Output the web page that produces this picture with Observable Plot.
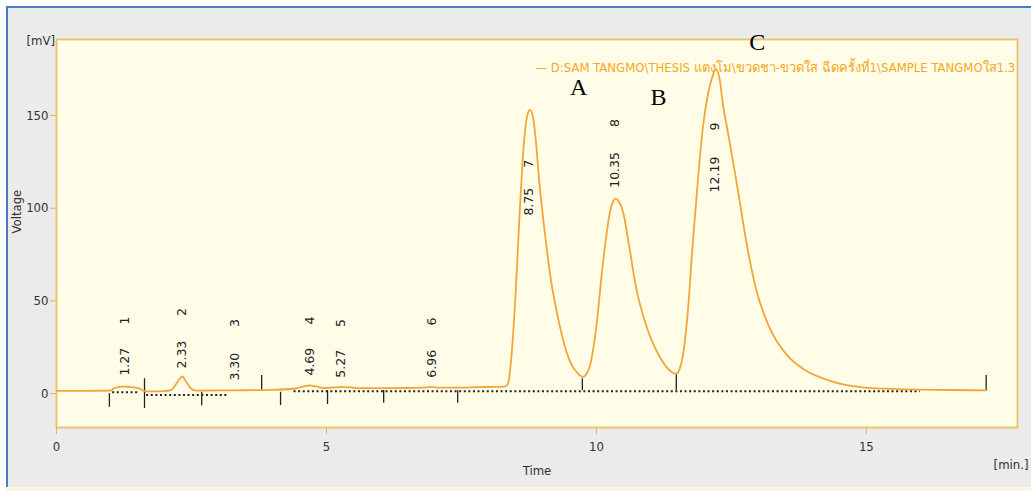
<!DOCTYPE html>
<html>
<head>
<meta charset="utf-8">
<script src="https://cdn.jsdelivr.net/npm/d3@7"></script>
<script src="https://cdn.jsdelivr.net/npm/@observablehq/plot@0.6"></script>
<style>
  html, body { margin: 0; padding: 0; background: #ffffff; }
  #wrap { position: relative; width: 1031px; height: 491px; overflow: hidden; }
  #panel { position: absolute; left: 6px; top: 6px; right: 0; bottom: 4px; background: #ebebeb;
           border-left: 2px solid #4a7cc9; border-top: 2px solid #4a7cc9; }
  #strip { position: absolute; left: 6px; right: 0; bottom: 0; height: 4px; background: #fbf5df; }
  #chart { position: absolute; left: 0; top: 0; }
  g[aria-label="peak-times"] text, g[aria-label="peak-numbers"] text { letter-spacing: 1.1px; }
</style>
</head>
<body>
<div id="wrap"><div id="panel"></div><div id="strip"></div><div id="chart"></div></div>
<script>
// ---- data ----
const time = [0, 0.5, 1.0, 1.05, 1.12, 1.2, 1.27, 1.35, 1.45, 1.55, 1.62, 1.75, 2.0, 2.12, 2.2, 2.27, 2.33, 2.4, 2.48, 2.58,
  3.0, 3.5, 4.0, 4.4, 4.55, 4.69, 4.8, 4.95, 5.1, 5.27, 5.45, 5.6, 6.0, 6.5, 6.85, 6.96, 7.08, 7.5, 7.8, 8.1,
  8.3, 8.36, 8.42, 8.5, 8.58, 8.66, 8.72, 8.77, 8.82, 8.88, 8.94, 9.04, 9.16, 9.31, 9.5, 9.65, 9.75, 9.87, 9.99, 10.12,
  10.24, 10.3, 10.36, 10.42, 10.49, 10.61, 10.73, 10.92, 11.17, 11.4, 11.48, 11.55, 11.62, 11.69, 11.78, 11.88, 11.97, 12.07, 12.15, 12.21,
  12.28, 12.34, 12.46, 12.62, 12.77, 12.96, 13.2, 13.51, 13.88, 14.31, 14.93, 15.5, 16.0, 17.0, 17.22];
const voltage = [1.5, 1.5, 1.6, 2.6, 3.4, 3.7, 3.8, 3.6, 3.3, 2.6, 1.5, 1.2, 1.3, 1.8, 4.5, 7.5, 9.2, 6.5, 3.0, 1.6,
  1.7, 1.8, 2.0, 2.6, 3.6, 4.4, 3.9, 3.0, 3.2, 3.5, 3.3, 2.9, 2.9, 3.0, 3.3, 3.6, 3.2, 3.2, 3.5, 3.6,
  3.8, 5, 18, 52, 98, 136, 150, 153, 150, 136, 115, 88, 61, 38, 18, 11, 9, 14, 34, 70,
  96, 103, 105, 103.5, 98.5, 79, 58, 37, 20, 11.5, 10.6, 14, 24, 43, 79, 115, 143, 162, 171, 175,
  170, 157, 137, 110, 83, 56, 36, 21.4, 12.4, 7, 3.4, 2.5, 2.1, 1.8, 1.7];

const peakTimes   = [1.27, 2.33, 3.30, 4.69, 5.27, 6.96, 8.75, 10.35, 12.19];
const peakLabels  = ["1.27", "2.33", "3.30", "4.69", "5.27", "6.96", "8.75", "10.35", "12.19"];
const peakNumbers = ["1", "2", "3", "4", "5", "6", "7", "8", "9"];
const timeLabelY  = [9.7, 13.5, 7.0, 9.7, 8.6, 8.6, 96, 111, 108.5];
const numberLabelY = [39.4, 44, 38, 39.4, 38, 38.9, 123.9, 146, 144];

const markerTimes  = [0.98, 1.63, 2.69, 3.80, 4.15, 5.02, 6.06, 7.43, 9.74, 11.48, 17.22];
const markerTop    = [0, 8, 0.7, 9.7, 0.7, 1.6, 1.6, 1.6, 8, 11, 9.7];
const markerBottom = [-7.4, -8, -6.5, 1.6, -6.5, -5.9, -5.2, -5.2, 1.6, 1.6, 1.6];

const baseStart = [1.04, 1.67, 4.4];
const baseEnd   = [1.55, 3.2, 16.0];
const baseLevel = [0.7, -0.8, 1.2];

const xTicks = [0, 5, 10, 15];
const yTicks = [0, 50, 100, 150];

const annoText = ["A", "B", "C"];
const annoTime = [9.67, 11.15, 12.98];
const annoVolt = [165.1, 159.7, 189.4];

const legendParts = ["— D:SAM TANGMO\\THESIS ", "แตงโม\\ขวดชา-ขวดใส ฉีดครั้งที่1", "\\SAMPLE TANGMOใส1.3"];
const legendTime = 8.87, legendVolt = 175.9;

// ---- tables ----
const signal = time.map((t, i) => ({t, v: voltage[i]}));
const peaks = peakTimes.map((t, i) => ({t, label: peakLabels[i], n: peakNumbers[i], ly: timeLabelY[i], ny: numberLabelY[i]}));
const markers = markerTimes.map((t, i) => ({t, top: markerTop[i], bottom: markerBottom[i]}));
const baselines = baseStart.map((s, i) => ({x1: s, x2: baseEnd[i], y: baseLevel[i]}));
const annos = annoText.map((s, i) => ({s, t: annoTime[i], v: annoVolt[i]}));
const legendRows = [{t: legendTime, v: legendVolt, s: legendParts.join("")}];

const narrow = "'Liberation Sans Narrow','Arial Narrow','DejaVu Sans Condensed','Liberation Sans',sans-serif";
const orange = "#f2a53a";

const chart = Plot.plot({
  width: 1031, height: 491,
  marginLeft: 56, marginRight: 14, marginTop: 39, marginBottom: 64,
  style: {background: "transparent", fontFamily: narrow, fontSize: "12px", overflow: "visible"},
  x: {domain: [0, 17.8]},
  y: {domain: [-18.3, 191]},
  marks: [
    Plot.frame({fill: "#fffde8", stroke: "#ecc065", strokeWidth: 1.8}),
    Plot.axisY({ticks: yTicks, tickSize: 6, tickPadding: 2, stroke: "#f0b050", fill: "#333", label: null, fontSize: 13, fontFamily: narrow}),
    Plot.axisX({ticks: xTicks, tickSize: 7, tickPadding: 7, stroke: "#f0b050", fill: "#333", label: null, fontSize: 13, fontFamily: narrow}),
    Plot.text(["[mV]"], {frameAnchor: "top-left", dx: -30, dy: -4, textAnchor: "start", fontSize: 13, fill: "#333", fontFamily: narrow}),
    Plot.text(["Voltage"], {frameAnchor: "left", dx: -40, rotate: -90, fontSize: 13, fill: "#333", fontFamily: narrow}),
    Plot.text(["Time"], {frameAnchor: "bottom", dy: 47, fontSize: 13, fill: "#333", fontFamily: narrow}),
    Plot.text(["[min.]"], {frameAnchor: "bottom-right", dx: 11, dy: 41, textAnchor: "end", fontSize: 13, fill: "#333", fontFamily: narrow}),
    Plot.ruleY(baselines, {x1: "x1", x2: "x2", y: "y", stroke: "#222", strokeWidth: 2, strokeDasharray: "2,2.6"}),
    Plot.ruleX(markers, {x: "t", y1: "top", y2: "bottom", stroke: "#222", strokeWidth: 1.3}),
    Plot.text(peaks, {x: "t", y: "ly", text: "label", rotate: -90, textAnchor: "start", fontSize: 12.5, fill: "#222", fontFamily: "DejaVu Sans", ariaLabel: "peak-times"}),
    Plot.text(peaks, {x: "t", y: "ny", text: "n", rotate: -90, textAnchor: "middle", fontSize: 12.5, fill: "#222", fontFamily: "DejaVu Sans", ariaLabel: "peak-numbers"}),
    Plot.line(signal, {x: "t", y: "v", stroke: orange, strokeWidth: 1.8, curve: "monotone-x"}),
    Plot.text(legendRows, {x: "t", y: "v", text: "s", textAnchor: "start", fontSize: 13, fill: "#f5a623", fontFamily: narrow, ariaLabel: "legend"}),
    Plot.text(annos, {x: "t", y: "v", text: "s", fontSize: 24, fill: "#000", fontFamily: "'Liberation Serif','DejaVu Serif',serif"})
  ]
});
document.getElementById("chart").appendChild(chart);

// legend: split into styled parts and fit to its width in the reference
const lg = chart.querySelector('g[aria-label="legend"] text');
if (lg) {
  lg.textContent = "";
  const styles = [{fill: "#f5a623", w: "normal"}, {fill: "#e07d05", w: "bold"}, {fill: "#f5a623", w: "normal"}];
  legendParts.forEach((p, i) => {
    const ts = document.createElementNS("http://www.w3.org/2000/svg", "tspan");
    ts.textContent = p;
    ts.setAttribute("fill", styles[i].fill);
    ts.setAttribute("font-weight", styles[i].w);
    lg.appendChild(ts);
  });
  lg.setAttribute("textLength", 470);
  lg.setAttribute("lengthAdjust", "spacingAndGlyphs");
}
</script>
</body>
</html>
